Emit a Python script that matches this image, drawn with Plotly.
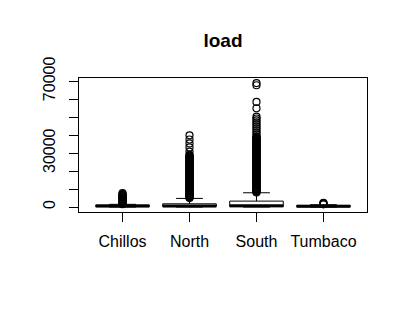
import plotly.graph_objects as go

categories = ["Chillos", "North", "South", "Tumbaco"]
positions = [1, 2, 3, 4]

q1 = [200, 250, 200, 100]
median = [550, 600, 700, 400]
q3 = [1100, 1800, 3300, 900]
lowerfence = [0, 0, 0, 0]
upperfence = [1500, 4800, 7950, 1300]

outliers_chillos = [1600, 2000, 2400, 2800, 3200, 3600, 4000, 4400, 4800, 5200,
                    5600, 6000, 6400, 6800, 7200, 7700]
outliers_north = [5000, 5400, 5800, 6200, 6600, 7000, 7400, 7800, 8200, 8600,
                  9000, 9400, 9800, 10200, 10600, 11000, 11400, 11800, 12200,
                  12600, 13000, 13400, 13800, 14200, 14600, 15000, 15400, 15800,
                  16200, 16600, 17000, 17400, 17800, 18200, 18600, 19000, 19400,
                  19800, 20200, 20600, 21000, 21400, 21800, 22200, 22600, 23000,
                  23400, 23800, 24200, 24600, 25000, 25400, 25800, 26200, 26600,
                  27000, 27400, 27800, 28200, 28600, 29000, 30900, 33200, 35400,
                  37600, 39900]
outliers_south = [8100, 8500, 8900, 9300, 9700, 10100, 10500, 10900, 11300,
                  11700, 12100, 12500, 12900, 13300, 13700, 14100, 14500, 14900,
                  15300, 15700, 16100, 16500, 16900, 17300, 17700, 18100, 18500,
                  18900, 19300, 19700, 20100, 20500, 20900, 21300, 21700, 22100,
                  22500, 22900, 23300, 23700, 24100, 24500, 24900, 25300, 25700,
                  26100, 26500, 26900, 27300, 27700, 28100, 28500, 28900, 29300,
                  29700, 30100, 30500, 30900, 31300, 31700, 32100, 32500, 32900,
                  33300, 33700, 34100, 34500, 34900, 35300, 35700, 36100, 36500,
                  36900, 37300, 37700, 38100, 38500, 38900, 39300, 40500, 41600,
                  42700, 43800, 44900, 46000, 47100, 48200, 49300, 50300, 55000,
                  58500, 67800, 69000]
outliers_tumbaco = [1500, 1800, 2100, 2400]

ytick_vals = [0, 10000, 20000, 30000, 40000, 50000, 60000, 70000]
ytick_text = ["0", "", "", "30000", "", "", "", "70000"]

FONT = "Liberation Sans, Arial, sans-serif"

fig = go.Figure()

fig.add_trace(go.Box(
    x=positions, q1=q1, median=median, q3=q3,
    lowerfence=lowerfence, upperfence=upperfence,
    width=0.8, whiskerwidth=0.5,
    fillcolor="white", line=dict(color="black", width=1),
    boxpoints=False, showlegend=False, hoverinfo="skip",
))

# thick median lines
mx, my = [], []
for p, m in zip(positions, median):
    mx += [p - 0.4, p + 0.4, None]
    my += [m, m, None]
fig.add_trace(go.Scatter(x=mx, y=my, mode="lines",
                         line=dict(color="black", width=3),
                         showlegend=False, hoverinfo="skip"))

all_out = [outliers_chillos, outliers_north, outliers_south, outliers_tumbaco]
for p, vals in zip(positions, all_out):
    fig.add_trace(go.Scatter(
        x=[p] * len(vals), y=vals, mode="markers",
        marker=dict(symbol="circle-open", size=7, color="black",
                    line=dict(color="black", width=1.2)),
        showlegend=False, hoverinfo="skip",
    ))

fig.update_layout(
    width=408, height=310,
    margin=dict(l=79, r=41, t=78, b=98, autoexpand=False),
    paper_bgcolor="white", plot_bgcolor="white",
    font=dict(family=FONT, size=16, color="black"),
    title=dict(text="<b>load</b>", x=0.5, xref="paper", xanchor="center",
               y=1 - 40 / 310, yref="container", yanchor="middle",
               font=dict(family=FONT, size=19, color="black")),
    showlegend=False,
)
fig.update_xaxes(
    range=[0.35, 4.65], tickvals=positions, ticktext=categories,
    showline=True, mirror=True, linecolor="black", linewidth=1,
    ticks="outside", ticklen=9, tickcolor="black", tickwidth=1,
    showgrid=False, zeroline=False, ticklabelstandoff=6,
    tickfont=dict(family=FONT, size=16, color="black"),
)
fig.update_yaxes(
    range=[-2763, 71833], tickvals=ytick_vals, ticktext=ytick_text,
    tickangle=-90,
    showline=True, mirror=True, linecolor="black", linewidth=1,
    ticks="outside", ticklen=9, tickcolor="black", tickwidth=1,
    showgrid=False, zeroline=False, ticklabelstandoff=8,
    tickfont=dict(family=FONT, size=16, color="black"),
)

fig.write_html("out.html", config={"displayModeBar": False},
               post_script="document.body.style.margin='0';document.body.style.padding='0';")
